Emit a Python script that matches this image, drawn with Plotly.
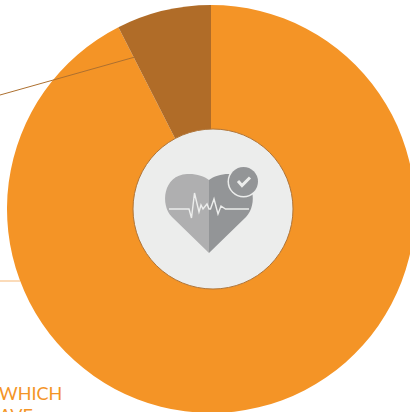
import plotly.graph_objects as go

labels = ["Majority", "Minority"]
values = [92.5, 7.5]
colors = ["#F49426", "#B06C28"]
text_lines = ["WHICH", "AVE"]

W, H = 424, 420      # canvas is slightly larger than the window; the pie is cropped like the reference
CX, CY, R = 211, 209, 204


def px(x):
    return x / W


def py(y):
    return 1 - y / H


def path(points, close=True):
    d = "M" + " L".join(f"{px(x):.5f},{py(y):.5f}" for x, y in points)
    return d + (" Z" if close else "")


fig = go.Figure(go.Pie(
    labels=labels, values=values, sort=False, direction="clockwise", rotation=0,
    marker=dict(colors=colors, line=dict(width=0)),
    textinfo="none", hoverinfo="label+percent", showlegend=False,
    domain=dict(x=[px(CX - R), px(CX + R)], y=[py(CY + R), py(CY - R)]),
))


def circle(cx, cy, r, fill, line=None, lw=0):
    return dict(type="circle", xref="paper", yref="paper", x0=px(cx - r), x1=px(cx + r),
                y0=py(cy + r), y1=py(cy - r), fillcolor=fill,
                line=dict(color=line or fill, width=lw))


def q(x, y):
    return f"{px(x):.5f},{py(y):.5f}"


left = (f"M{q(209,253)} L{q(172,217)} C{q(160,205)} {q(163,175)} {q(187,174)} "
        f"C{q(196,173.5)} {q(204,176)} {q(209,180)} Z")
right = (f"M{q(209,253)} L{q(246,217)} C{q(258,205)} {q(255,175)} {q(231,174)} "
         f"C{q(222,173.5)} {q(214,176)} {q(209,180)} Z")

ecg = [(169, 209), (189, 209), (191.5, 218), (194.5, 193), (199, 212), (201, 205), (203, 209),
       (207, 204), (209, 209), (210.5, 209), (214, 199), (218, 214), (221, 206), (225.5, 209), (249, 209)]
tick = [(238, 181), (242, 185.5), (250, 177.5)]

fig.update_layout(
    width=W, height=H, margin=dict(l=0, r=0, t=0, b=0, autoexpand=False),
    paper_bgcolor="white", plot_bgcolor="white",
    shapes=[
        dict(type="line", xref="paper", yref="paper", x0=px(0), y0=py(95), x1=px(135), y1=py(57),
             line=dict(color="#AD7030", width=1)),
        dict(type="line", xref="paper", yref="paper", x0=px(0), y0=py(281), x1=px(20), y1=py(281),
             line=dict(color="#F9C48A", width=1.2)),
        circle(213, 209, 80, "#ECEDEC", "#B0763A", 1),
        dict(type="path", xref="paper", yref="paper", path=left, fillcolor="#AFAFB0", line=dict(width=0)),
        dict(type="path", xref="paper", yref="paper", path=right, fillcolor="#939597", line=dict(width=0)),
        dict(type="path", xref="paper", yref="paper", path=path(ecg, close=False),
             fillcolor="rgba(0,0,0,0)", line=dict(color="#ECEDEC", width=1.4)),
        circle(243.5, 181.5, 16, "#ECEDEC"),
        circle(243.5, 181.5, 14.5, "#939597"),
        dict(type="path", xref="paper", yref="paper", path=path(tick, close=False),
             fillcolor="rgba(0,0,0,0)", line=dict(color="#ECEDEC", width=3)),
    ],
    annotations=[
        dict(text=text_lines[0], xref="paper", yref="paper", x=px(0), y=py(393), xanchor="left", yanchor="middle",
             xshift=-3, showarrow=False, font=dict(family="Lato", size=18, color="#F49426", weight=400)),
        dict(text=text_lines[1], xref="paper", yref="paper", x=px(0), y=py(415), xanchor="left", yanchor="middle",
             xshift=-3, showarrow=False, font=dict(family="Lato", size=18, color="#F49426", weight=400)),
    ],
)

fig.write_html("out.html", config={"displayModeBar": False},
               post_script="document.documentElement.style.overflow='hidden';document.body.style.overflow='hidden';document.body.style.margin='0';")
